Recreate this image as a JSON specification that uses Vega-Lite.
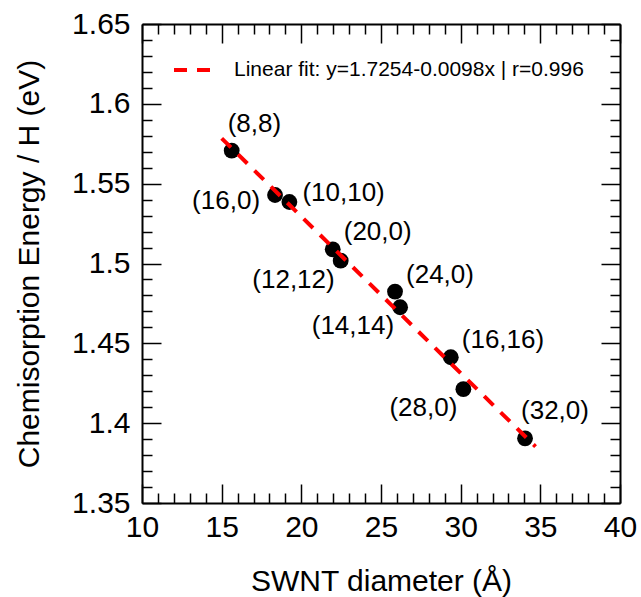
{
  "$schema": "https://vega.github.io/schema/vega-lite/v6.json",
  "autosize": {"type": "none"},
  "padding": {"left": 142, "top": 24, "right": 21, "bottom": 94},
  "width": 478,
  "height": 479,
  "background": "white",
  "view": {"stroke": null},
  "config": {
    "font": "Liberation Sans",
    "axis": {
      "labelFont": "Liberation Sans",
      "titleFont": "Liberation Sans",
      "labelColor": "black",
      "titleColor": "black",
      "tickColor": "black",
      "domainColor": "black",
      "domainWidth": 2,
      "tickWidth": 1.5,
      "grid": false,
      "labelFontSize": 30,
      "titleFontSize": 30,
      "titleFontWeight": "normal",
      "labelFlush": false,
      "labelOverlap": false
    }
  },
  "datasets": {
    "tubes": [
      {"x": 15.63, "y": 1.5707, "label": "(8,8)", "pos": "top"},
      {"x": 18.35, "y": 1.5429, "label": "(16,0)", "pos": "west"},
      {"x": 19.25, "y": 1.5385, "label": "(10,10)", "pos": "east"},
      {"x": 21.97, "y": 1.5089, "label": "(20,0)", "pos": "northeast"},
      {"x": 22.47, "y": 1.5018, "label": "(12,12)", "pos": "southwest"},
      {"x": 25.88, "y": 1.4824, "label": "(24,0)", "pos": "northeast"},
      {"x": 26.2, "y": 1.4726, "label": "(14,14)", "pos": "southwest"},
      {"x": 29.38, "y": 1.4413, "label": "(16,16)", "pos": "northeast"},
      {"x": 30.17, "y": 1.4213, "label": "(28,0)", "pos": "southwest"},
      {"x": 34.04, "y": 1.3905, "label": "(32,0)", "pos": "top"}
    ],
    "fit": [
      {"x": 15.0, "y": 1.5784, "series": "Linear fit: y=1.7254-0.0098x | r=0.996"},
      {"x": 34.7, "y": 1.3853, "series": "Linear fit: y=1.7254-0.0098x | r=0.996"}
    ]
  },
  "layer": [
    {
      "data": {"name": "tubes"},
      "mark": {"type": "point", "filled": true, "shape": "circle", "size": 250, "color": "black", "opacity": 1},
      "encoding": {
        "x": {
          "field": "x", "type": "quantitative",
          "scale": {"domain": [10, 40], "nice": false, "zero": false},
          "axis": {"orient": "bottom", "values": [10, 15, 20, 25, 30, 35, 40], "tickSize": -19, "labelPadding": 28, "title": "SWNT diameter (Å)", "titlePadding": 24}
        },
        "y": {
          "field": "y", "type": "quantitative",
          "scale": {"domain": [1.35, 1.65], "nice": false, "zero": false},
          "axis": {"orient": "left", "values": [1.35, 1.4, 1.45, 1.5, 1.55, 1.6, 1.65], "format": ".2~f", "tickSize": -19, "labelPadding": 31, "title": "Chemisorption Energy / H (eV)", "titlePadding": 27}
        }
      }
    },
    {
      "data": {"name": "fit"},
      "mark": {"type": "line", "strokeWidth": 4, "strokeDash": [13, 10]},
      "encoding": {
        "x": {"field": "x", "type": "quantitative", "axis": {"orient": "top", "values": [10, 15, 20, 25, 30, 35, 40], "tickSize": -19, "labels": false, "title": null}},
        "y": {"field": "y", "type": "quantitative", "axis": {"orient": "right", "values": [1.35, 1.4, 1.45, 1.5, 1.55, 1.6, 1.65], "tickSize": -19, "labels": false, "title": null}},
        "color": {
          "field": "series", "type": "nominal",
          "scale": {"range": ["#ff0000"]},
          "legend": {"orient": "none", "legendX": 30, "legendY": 26, "title": null, "padding": 0, "symbolType": "stroke", "symbolSize": 1296, "symbolStrokeWidth": 4, "symbolDash": [13, 10], "labelFontSize": 21, "labelFont": "Liberation Sans", "labelColor": "black", "labelOffset": 22, "labelLimit": 0}
        }
      }
    },
    {
      "data": {"name": "tubes"},
      "transform": [{"filter": "datum.pos === 'top'"}],
      "mark": {"type": "text", "align": "left", "baseline": "middle", "dx": -4, "dy": -27, "fontSize": 26, "font": "Liberation Sans", "color": "black"},
      "encoding": {
        "x": {"field": "x", "type": "quantitative", "axis": {"orient": "bottom", "values": [11, 12, 13, 14, 16, 17, 18, 19, 21, 22, 23, 24, 26, 27, 28, 29, 31, 32, 33, 34, 36, 37, 38, 39], "tickSize": -10, "labels": false, "domain": false, "title": null}},
        "y": {"field": "y", "type": "quantitative", "axis": {"orient": "left", "values": [1.36, 1.37, 1.38, 1.39, 1.41, 1.42, 1.43, 1.44, 1.46, 1.47, 1.48, 1.49, 1.51, 1.52, 1.53, 1.54, 1.56, 1.57, 1.58, 1.59, 1.61, 1.62, 1.63, 1.64], "tickSize": -10, "labels": false, "domain": false, "title": null}},
        "text": {"field": "label"}
      }
    },
    {
      "data": {"name": "tubes"},
      "transform": [{"filter": "datum.pos === 'west'"}],
      "mark": {"type": "text", "align": "right", "baseline": "middle", "dx": -15, "dy": 6, "fontSize": 26, "font": "Liberation Sans", "color": "black"},
      "encoding": {
        "x": {"field": "x", "type": "quantitative", "axis": {"orient": "top", "values": [11, 12, 13, 14, 16, 17, 18, 19, 21, 22, 23, 24, 26, 27, 28, 29, 31, 32, 33, 34, 36, 37, 38, 39], "tickSize": -10, "labels": false, "domain": false, "title": null}},
        "y": {"field": "y", "type": "quantitative", "axis": {"orient": "right", "values": [1.36, 1.37, 1.38, 1.39, 1.41, 1.42, 1.43, 1.44, 1.46, 1.47, 1.48, 1.49, 1.51, 1.52, 1.53, 1.54, 1.56, 1.57, 1.58, 1.59, 1.61, 1.62, 1.63, 1.64], "tickSize": -10, "labels": false, "domain": false, "title": null}},
        "text": {"field": "label"}
      }
    },
    {
      "data": {"name": "tubes"},
      "transform": [{"filter": "datum.pos === 'east'"}],
      "mark": {"type": "text", "align": "left", "baseline": "middle", "dx": 13, "dy": -9, "fontSize": 26, "font": "Liberation Sans", "color": "black"},
      "encoding": {
        "x": {"field": "x", "type": "quantitative", "axis": null},
        "y": {"field": "y", "type": "quantitative", "axis": null},
        "text": {"field": "label"}
      }
    },
    {
      "data": {"name": "tubes"},
      "transform": [{"filter": "datum.pos === 'northeast'"}],
      "mark": {"type": "text", "align": "left", "baseline": "middle", "dx": 11, "dy": -17, "fontSize": 26, "font": "Liberation Sans", "color": "black"},
      "encoding": {
        "x": {"field": "x", "type": "quantitative", "axis": null},
        "y": {"field": "y", "type": "quantitative", "axis": null},
        "text": {"field": "label"}
      }
    },
    {
      "data": {"name": "tubes"},
      "transform": [{"filter": "datum.pos === 'southwest'"}],
      "mark": {"type": "text", "align": "right", "baseline": "middle", "dx": -6, "dy": 19, "fontSize": 26, "font": "Liberation Sans", "color": "black"},
      "encoding": {
        "x": {"field": "x", "type": "quantitative", "axis": null},
        "y": {"field": "y", "type": "quantitative", "axis": null},
        "text": {"field": "label"}
      }
    }
  ]
}
